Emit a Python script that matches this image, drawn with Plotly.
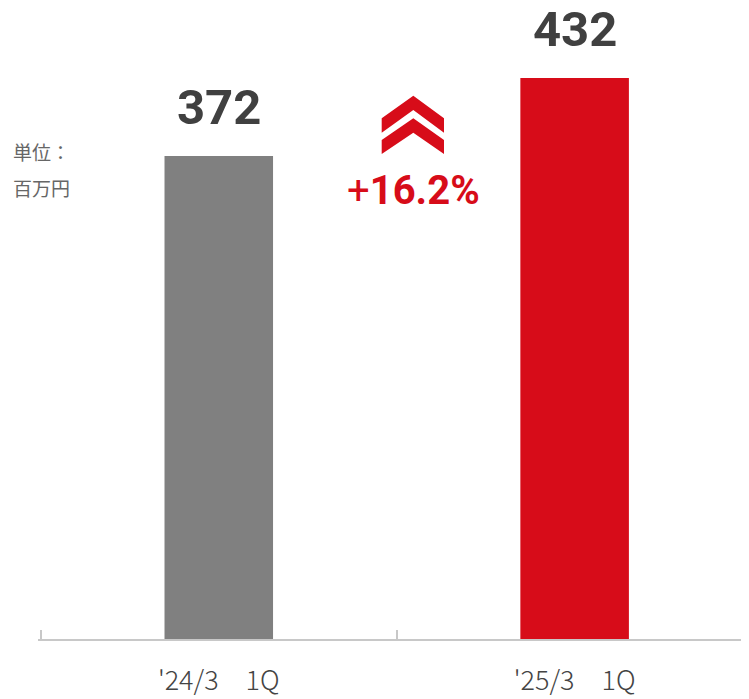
import plotly.graph_objects as go

# データ
categories = ["'24/3\u30001Q", "'25/3\u30001Q"]
values = [372, 432]
bar_colors = ["#808080", "#d70c19"]
value_labels = ["372", "432"]
growth_sign = "+"
growth_value = "16.2%"
unit_lines = ["単位：", "百万円"]

RED = "#d70c19"
OFF = 8  # ページ本体の余白分
W, H = 749 - OFF, 699 - OFF
ML, MB = 30, 60
PW, PH = W - ML, H - MB


def px(x):
    return (x - OFF - ML) / PW


def py(y):
    return (OFF + PH - y) / PH


def chevron(pts):
    p = " L ".join(f"{px(x):.5f},{py(y):.5f}" for x, y in pts)
    return f"M {p} Z"


fig = go.Figure(go.Bar(
    x=categories,
    y=values,
    marker=dict(color=bar_colors, line=dict(width=0)),
    width=0.305,
    hoverinfo="x+y",
))

# 値ラベル
for cat, v, lab in zip(categories, values, value_labels):
    fig.add_annotation(
        x=cat, y=v, text=lab, showarrow=False,
        xref="x", yref="y", yanchor="bottom", yshift=18,
        font=dict(family="Roboto, Liberation Sans, Arial", size=49,
                  color="#404040", weight="bold"),
    )

# 伸び率
fig.add_annotation(
    x=px(413), y=py(190), xref="paper", yref="paper",
    text=f"{growth_sign}<b>{growth_value}</b>", showarrow=False,
    yanchor="middle",
    font=dict(family="Roboto, Liberation Sans, Arial", size=40, color=RED),
)

# 単位
for i, line in enumerate(unit_lines):
    fig.add_annotation(
        x=px(11), y=py(151 + 36 * i), xref="paper", yref="paper",
        xanchor="left", yanchor="middle", text=line, showarrow=False,
        font=dict(family="Noto Sans CJK JP", size=19, color="#666666"),
    )

# 上向き矢印（二重シェブロン）
upper = [(381.7, 118.3), (413.3, 95.7), (444, 118.3), (444, 132.7),
         (413.3, 110), (381.7, 132.7)]
lower = [(381.7, 140), (413.3, 118.3), (444, 140), (444, 154),
         (413.3, 132.7), (381.7, 154)]
for pts in (upper, lower):
    fig.add_shape(type="path", path=chevron(pts), xref="paper", yref="paper",
                  fillcolor=RED, line=dict(width=0))

fig.update_layout(
    width=W, height=H,
    margin=dict(l=ML, r=0, t=0, b=MB, autoexpand=False),
    plot_bgcolor="white", paper_bgcolor="white",
    showlegend=False,
    xaxis=dict(
        range=[-0.508, 1.49], automargin=False,
        showline=True, linecolor="#c8c8c8", linewidth=2,
        ticks="inside", tickson="boundaries", ticklen=9,
        tickcolor="#c8c8c8", tickwidth=2,
        ticklabelstandoff=17,
        tickfont=dict(family="Noto Sans CJK JP", size=27, color="#444444",
                      weight=300),
        showgrid=False, zeroline=False,
    ),
    yaxis=dict(range=[0, PH / 1.2984], visible=False, showgrid=False,
               zeroline=False, automargin=False),
)

fig.write_html("out.html")
